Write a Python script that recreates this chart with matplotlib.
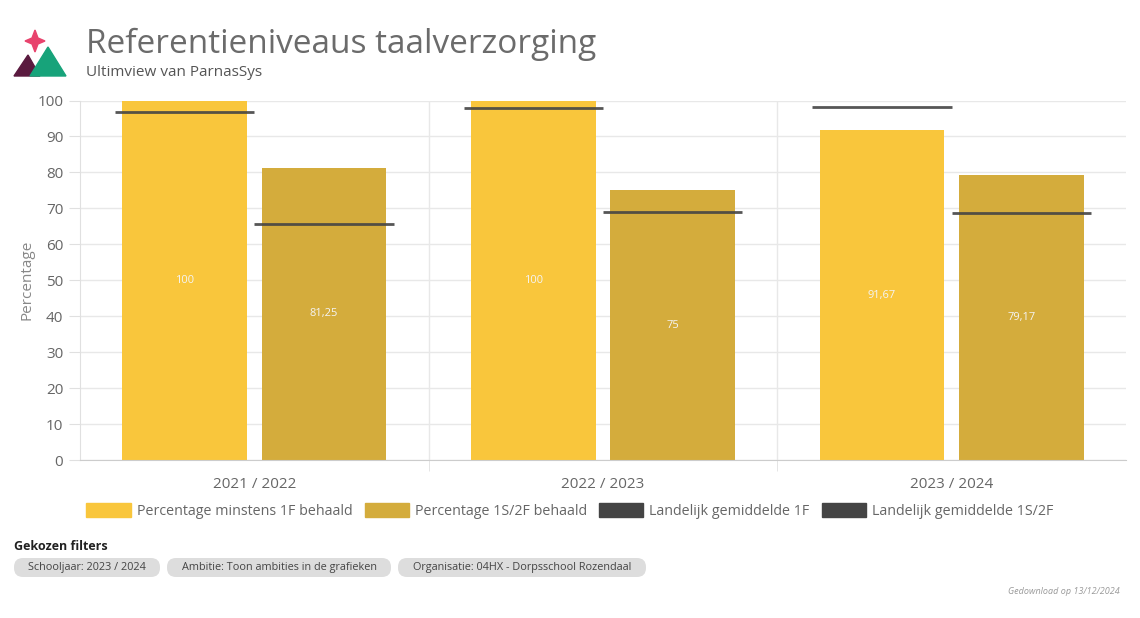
import matplotlib.pyplot as plt
from matplotlib.patches import Patch, Polygon, FancyBboxPatch
from matplotlib.transforms import IdentityTransform

# data
years = ['2021 / 2022', '2022 / 2023', '2023 / 2024']
pct_1f = [100, 100, 91.67]
pct_2f = [81.25, 75, 79.17]
avg_1f = [96.9, 98.0, 98.2]
avg_2f = [65.7, 69.1, 68.8]
value_labels_1f = ['100', '100', '91,67']
value_labels_2f = ['81,25', '75', '79,17']
series_names = ['Percentage minstens 1F behaald', 'Percentage 1S/2F behaald',
                'Landelijk gemiddelde 1F', 'Landelijk gemiddelde 1S/2F']
filters = ['Schooljaar: 2023 / 2024', 'Ambitie: Toon ambities in de grafieken',
           'Organisatie: 04HX - Dorpsschool Rozendaal']

plt.rcParams['font.family'] = ['Open Sans', 'DejaVu Sans']

col_1f = '#f9c63c'
col_2f = '#d4ac3c'
col_avg = '#444444'

W, H = 1140, 618
fig = plt.figure(figsize=(W / 100, H / 100), dpi=100)
ax = fig.add_axes([80 / W, 1 - 460 / H, 1046 / W, 359.5 / H])

x = list(range(len(years)))
offset = 0.2
bar_w = 0.358
line_w = 0.4

ax.bar([i - offset for i in x], pct_1f, width=bar_w, color=col_1f, zorder=2)
ax.bar([i + offset for i in x], pct_2f, width=bar_w, color=col_2f, zorder=2)

for i in x:
    ax.hlines(avg_1f[i], i - offset - line_w / 2, i - offset + line_w / 2,
              color=col_avg, lw=2, alpha=0.9, zorder=3)
    ax.hlines(avg_2f[i], i + offset - line_w / 2, i + offset + line_w / 2,
              color=col_avg, lw=2, alpha=0.9, zorder=3)
    ax.text(i - offset, pct_1f[i] / 2, value_labels_1f[i], ha='center', va='center',
            color='#f4f4f4', fontsize=8, zorder=4)
    ax.text(i + offset, pct_2f[i] / 2, value_labels_2f[i], ha='center', va='center',
            color='#f4f4f4', fontsize=8, zorder=4)

ax.set_xlim(-0.5, len(years) - 0.5)
ax.set_ylim(0, 100)
ax.set_yticks(range(0, 101, 10))
ax.set_xticks(x)
ax.set_xticklabels(years)
ax.set_xticks([0.5, 1.5], minor=True)
ax.tick_params(axis='x', which='major', length=0, pad=12, labelsize=11, labelcolor='#666666')
ax.tick_params(axis='x', which='minor', length=8, color='#e0e0e0')
ax.tick_params(axis='y', length=8, color='#e0e0e0', labelsize=11, labelcolor='#666666', pad=4)
ax.grid(axis='y', color='#e8e8e8', lw=1, zorder=0)
for xv in [0.5, 1.5]:
    ax.axvline(xv, color='#e8e8e8', lw=1, zorder=0)
for s in ['top', 'right']:
    ax.spines[s].set_visible(False)
ax.spines['left'].set_color('#e0e0e0')
ax.spines['bottom'].set_color('#cccccc')
ax.set_ylabel('Percentage', color='#888888', fontsize=11, labelpad=2)

# legend
handles = [Patch(color=col_1f), Patch(color=col_2f), Patch(color=col_avg), Patch(color=col_avg)]
fig.legend(handles, series_names, loc='center', bbox_to_anchor=(570 / W, 1 - 511 / H),
           ncol=4, frameon=False, fontsize=10.3, labelcolor='#666666', handlelength=3.1,
           handleheight=1.1, handletextpad=0.42, columnspacing=0.85)

# header
fig.text(86 / W, 1 - 44 / H, 'Referentieniveaus taalverzorging', fontsize=24,
         color='#6b6b6b', va='center')
fig.text(86 / W, 1 - 72 / H, 'Ultimview van ParnasSys', fontsize=11,
         color='#555555', va='center')


def px(xp, yp):
    return (xp / W, 1 - yp / H)


# logo
fig.patches.append(Polygon([px(14, 76), px(28, 55), px(40, 76)], closed=True,
                           color='#5a1a3f', transform=fig.transFigure, figure=fig))
fig.patches.append(Polygon([px(30, 76), px(48, 47), px(66, 76)], closed=True,
                           color='#17a37a', transform=fig.transFigure, figure=fig))
fig.patches.append(Polygon([px(35, 30), px(38, 38), px(45, 41), px(38, 44), px(35, 52),
                            px(32, 44), px(25, 41), px(32, 38)], closed=True,
                           color='#e8436d', transform=fig.transFigure, figure=fig))

# filters
fig.text(14 / W, 1 - 546 / H, 'Gekozen filters', fontsize=9, fontweight='bold',
         color='#222222', va='center')
chip_spans = [(14, 160), (167, 391), (398, 646)]
for (x0, x1), label in zip(chip_spans, filters):
    fig.patches.append(FancyBboxPatch((x0, H - 577), x1 - x0, 19,
                                      boxstyle='round,pad=0,rounding_size=9',
                                      fc='#dddddd', ec='none',
                                      transform=IdentityTransform(), figure=fig))
    fig.text((x0 + x1) / 2 / W, 1 - 567.5 / H, label, fontsize=7.8, color='#444444',
             ha='center', va='center')

fig.text(1120 / W, 1 - 592 / H, 'Gedownload op 13/12/2024', fontsize=6.5,
         style='italic', color='#999999', ha='right', va='center')

fig.savefig('out.png', dpi=100, facecolor='white')
